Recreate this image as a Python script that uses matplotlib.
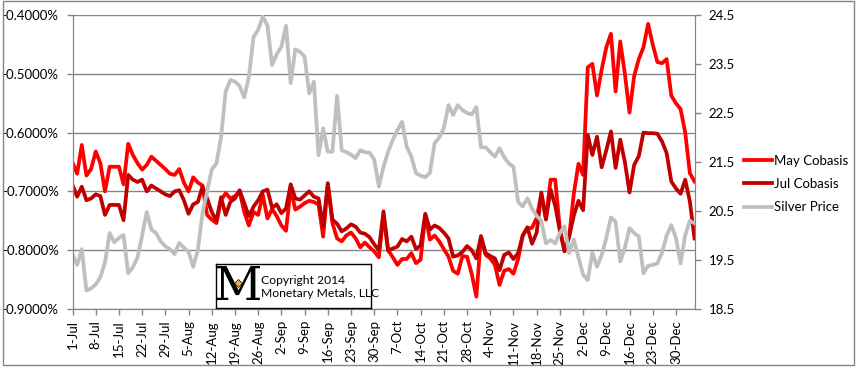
import numpy as np
import matplotlib
matplotlib.use('Agg')
import matplotlib.pyplot as plt
from matplotlib.ticker import FuncFormatter, FixedLocator
from matplotlib.patches import Rectangle

plt.rcParams['font.family'] = ['Lato', 'DejaVu Sans']

# weekly labels, one every 5 trading days
tick_labels = ['1-Jul', '8-Jul', '15-Jul', '22-Jul', '29-Jul', '5-Aug', '12-Aug', '19-Aug',
               '26-Aug', '2-Sep', '9-Sep', '16-Sep', '23-Sep', '30-Sep', '7-Oct', '14-Oct',
               '21-Oct', '28-Oct', '4-Nov', '11-Nov', '18-Nov', '25-Nov', '2-Dec', '9-Dec',
               '16-Dec', '23-Dec', '30-Dec']

# cobasis in percent
may_cobasis = [
    -0.651, -0.670, -0.621, -0.673, -0.662, -0.632, -0.652, -0.700, -0.658, -0.658,
    -0.658, -0.688, -0.619, -0.638, -0.652, -0.663, -0.655, -0.641, -0.648, -0.655,
    -0.662, -0.670, -0.672, -0.662, -0.685, -0.700, -0.676, -0.685, -0.690, -0.740,
    -0.748, -0.754, -0.715, -0.703, -0.712, -0.708, -0.700, -0.735, -0.758, -0.735,
    -0.740, -0.706, -0.746, -0.730, -0.742, -0.758, -0.767, -0.695, -0.731, -0.726,
    -0.720, -0.716, -0.718, -0.722, -0.777, -0.688, -0.754, -0.780, -0.785, -0.775,
    -0.770, -0.780, -0.795, -0.787, -0.795, -0.802, -0.812, -0.740, -0.800, -0.812,
    -0.825, -0.815, -0.815, -0.805, -0.822, -0.816, -0.740, -0.782, -0.775, -0.785,
    -0.798, -0.811, -0.835, -0.840, -0.810, -0.811, -0.840, -0.879, -0.777, -0.808,
    -0.814, -0.825, -0.859, -0.835, -0.832, -0.840, -0.815, -0.775, -0.763, -0.762,
    -0.745, -0.705, -0.746, -0.680, -0.680, -0.765, -0.800, -0.777, -0.704, -0.653,
    -0.672, -0.489, -0.483, -0.537, -0.493, -0.455, -0.432, -0.530, -0.445, -0.500,
    -0.566, -0.504, -0.475, -0.455, -0.415, -0.450, -0.480, -0.482, -0.475, -0.537,
    -0.550, -0.560, -0.600, -0.669, -0.683]

jul_cobasis = [
    -0.689, -0.709, -0.692, -0.715, -0.712, -0.705, -0.708, -0.740, -0.723, -0.723,
    -0.723, -0.749, -0.672, -0.680, -0.684, -0.680, -0.700, -0.690, -0.695, -0.700,
    -0.705, -0.708, -0.700, -0.698, -0.715, -0.738, -0.722, -0.718, -0.692, -0.712,
    -0.735, -0.750, -0.710, -0.740, -0.718, -0.712, -0.698, -0.720, -0.742, -0.726,
    -0.715, -0.700, -0.697, -0.728, -0.722, -0.737, -0.729, -0.688, -0.712, -0.714,
    -0.707, -0.700, -0.709, -0.712, -0.760, -0.686, -0.748, -0.755, -0.768, -0.763,
    -0.756, -0.760, -0.770, -0.772, -0.778, -0.790, -0.800, -0.734, -0.801, -0.797,
    -0.794, -0.781, -0.785, -0.777, -0.798, -0.792, -0.738, -0.765, -0.758, -0.762,
    -0.770, -0.780, -0.811, -0.809, -0.803, -0.793, -0.800, -0.814, -0.776, -0.805,
    -0.810, -0.814, -0.834, -0.808, -0.804, -0.815, -0.805, -0.775, -0.761, -0.789,
    -0.770, -0.702, -0.748, -0.697, -0.725, -0.767, -0.802, -0.777, -0.741, -0.716,
    -0.732, -0.604, -0.638, -0.607, -0.659, -0.630, -0.598, -0.660, -0.612, -0.650,
    -0.702, -0.655, -0.640, -0.600, -0.601, -0.601, -0.602, -0.615, -0.635, -0.683,
    -0.695, -0.704, -0.680, -0.717, -0.780]

silver_price = [
    19.62, 19.40, 19.72, 18.88, 18.92, 19.00, 19.15, 19.45, 20.05, 19.86,
    19.95, 20.01, 19.23, 19.35, 19.55, 20.00, 20.48, 20.12, 20.05, 19.88,
    19.78, 19.72, 19.62, 19.85, 19.75, 19.67, 19.36, 19.70, 20.45, 20.90,
    21.35, 21.47, 22.00, 22.94, 23.17, 23.14, 23.05, 22.82, 23.24, 24.05,
    24.20, 24.47, 24.28, 23.48, 23.70, 23.85, 24.28, 23.11, 23.80, 23.75,
    23.65, 22.90, 23.14, 21.64, 22.19, 21.71, 21.71, 22.85, 21.74, 21.70,
    21.65, 21.58, 21.74, 21.70, 21.69, 21.55, 21.00, 21.40, 21.71, 21.95,
    22.15, 22.32, 21.81, 21.61, 21.27, 21.22, 21.19, 21.28, 21.88, 22.00,
    22.19, 22.66, 22.46, 22.66, 22.56, 22.50, 22.47, 22.62, 21.80, 21.80,
    21.70, 21.61, 21.78, 21.60, 21.47, 21.40, 20.69, 20.59, 20.76, 20.55,
    20.40, 20.30, 19.84, 19.91, 19.84, 20.05, 20.19, 19.64, 19.92, 19.55,
    19.20, 19.09, 19.65, 19.36, 19.60, 19.95, 20.37, 20.28, 19.47, 19.75,
    20.15, 20.05, 19.98, 19.23, 19.38, 19.40, 19.43, 19.65, 20.00, 20.21,
    19.95, 19.43, 20.01, 20.30, 20.25]

x = np.arange(len(may_cobasis))
grey = '#868686'

fig = plt.figure(figsize=(8.57, 3.68), dpi=100)
fig.patches.append(Rectangle((0.003, 0.008), 0.994, 0.99, transform=fig.transFigure,
                             fill=False, edgecolor=grey, lw=1))

ax = fig.add_axes([72.5 / 857, 1 - 309 / 368, (694.5 - 72.5) / 857, (309 - 15) / 368])
l1, = ax.plot(x, may_cobasis, color='#FF0000', lw=2.7, solid_joinstyle='round')
l2, = ax.plot(x, jul_cobasis, color='#C00000', lw=2.7, solid_joinstyle='round')
ax.set_xlim(0, len(x) - 1)
ax.set_ylim(-0.9, -0.4)
ax.yaxis.set_major_locator(FixedLocator(np.arange(-0.9, -0.35, 0.1)))
ax.yaxis.set_major_formatter(FuncFormatter(lambda v, p: f'{v:.4f}%'))
ax.grid(axis='y', color=grey, lw=1)
ax.set_axisbelow(True)
ax.set_xticks(np.arange(0, len(x), 5)[:len(tick_labels)])
ax.set_xticklabels(tick_labels, rotation=90)

ax2 = ax.twinx()
l3, = ax2.plot(x, silver_price, color='#BFBFBF', lw=2.7, solid_joinstyle='round')
ax2.set_ylim(18.5, 24.5)
ax2.set_yticks(np.arange(18.5, 24.6, 1.0))
ax2.yaxis.set_major_formatter(FuncFormatter(lambda v, p: f'{v:.1f}'))

for a in (ax, ax2):
    a.spines['top'].set_visible(False)
    for s in ('left', 'right', 'bottom'):
        a.spines[s].set_color(grey)
    a.tick_params(colors=grey, labelcolor='black', labelsize=9.5, length=4, width=1,
                  direction='out', pad=6)
ax.tick_params(axis='x', pad=4)

fig.legend([l1, l2, l3], ['May Cobasis', 'Jul Cobasis', 'Silver Price'],
           loc='center left', bbox_to_anchor=(744 / 857, 1 - 184 / 368), frameon=False,
           fontsize=9.5, handlelength=2.1, handletextpad=0.2, labelspacing=0.85,
           borderpad=0, borderaxespad=0)

# copyright box
box = fig.add_axes([216 / 857, 1 - 308 / 368, (371 - 216) / 857, (308 - 264) / 368])
box.set_xticks([])
box.set_yticks([])
for s in box.spines.values():
    s.set_color('black')
    s.set_linewidth(1)
box.set_xlim(0, 155)
box.set_ylim(0, 44)
box.text(22, 21, 'M', family='DejaVu Serif', fontsize=34, ha='center', va='center',
         color='black')
box.plot([22], [25], marker='D', ms=4, color='#F5A94A', mec='black', mew=0.5)
box.text(45, 21, 'Copyright 2014\nMonetary Metals, LLC', fontsize=8.7, ha='left',
         va='center', linespacing=1.3)

fig.savefig('out.png', dpi=100)
